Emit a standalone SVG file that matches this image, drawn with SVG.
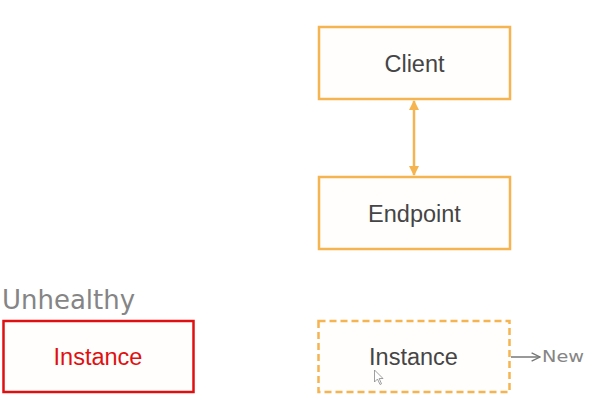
<svg xmlns="http://www.w3.org/2000/svg" width="594" height="409" viewBox="0 0 594 409">
<style>
.box{fill:#fffefd;stroke:#f5b450;stroke-width:2.5}
.lbl{font-family:"Liberation Sans",Arial,sans-serif;font-size:23.5px;fill:#454545;text-anchor:middle}
.hand{font-family:"DejaVu Sans",sans-serif;fill:#858585;font-weight:normal}
</style>
<defs>
<marker id="ah" viewBox="0 0 10 10" refX="9" refY="5" markerWidth="4" markerHeight="4" orient="auto-start-reverse">
<path d="M0,0 L10,5 L0,10 z" fill="#f5b450"/>
</marker>
<marker id="ga" viewBox="0 0 10 10" refX="9" refY="5" markerWidth="7" markerHeight="7" orient="auto">
<path d="M1,1 L9,5 L1,9" fill="none" stroke="#777" stroke-width="1.3"/>
</marker>
</defs>
<rect width="594" height="409" fill="#ffffff"/>
<g id="client">
<rect class="box" x="319" y="27" width="191" height="72"/>
<text class="lbl" x="414.5" y="72">Client</text>
</g>
<g id="endpoint">
<rect class="box" x="319" y="177" width="191" height="72"/>
<text class="lbl" x="414.5" y="222">Endpoint</text>
</g>
<g id="unhealthy-instance">
<rect x="3.5" y="321" width="190" height="71" fill="#fffefd" stroke="#e01010" stroke-width="2.5"/>
<text class="lbl" x="98" y="365" style="fill:#e01010">Instance</text>
</g>
<g id="new-instance">
<rect class="box" x="318.5" y="321" width="191" height="71" stroke-dasharray="7,4"/>
<text class="lbl" x="413.5" y="365">Instance</text>
</g>
<g id="annotations">
<text class="hand" x="2" y="309" font-size="27" textLength="133" lengthAdjust="spacingAndGlyphs">Unhealthy</text>
<text class="hand" x="542" y="362" font-size="15" textLength="42" lengthAdjust="spacingAndGlyphs">New</text>
<path d="M374.5,370 L374.5,382 L377.5,379 L380,384.5 L381.5,383.8 L379.2,378.5 L383,378.5 Z" fill="#fff" stroke="#888" stroke-width="0.8"/>
</g>
<g id="connectors">
<line x1="414" y1="101" x2="414" y2="175" stroke="#f5b450" stroke-width="2.5" marker-start="url(#ah)" marker-end="url(#ah)"/>
<line x1="511" y1="357" x2="540" y2="357" stroke="#777" stroke-width="1.5" marker-end="url(#ga)"/>
</g>
</svg>
